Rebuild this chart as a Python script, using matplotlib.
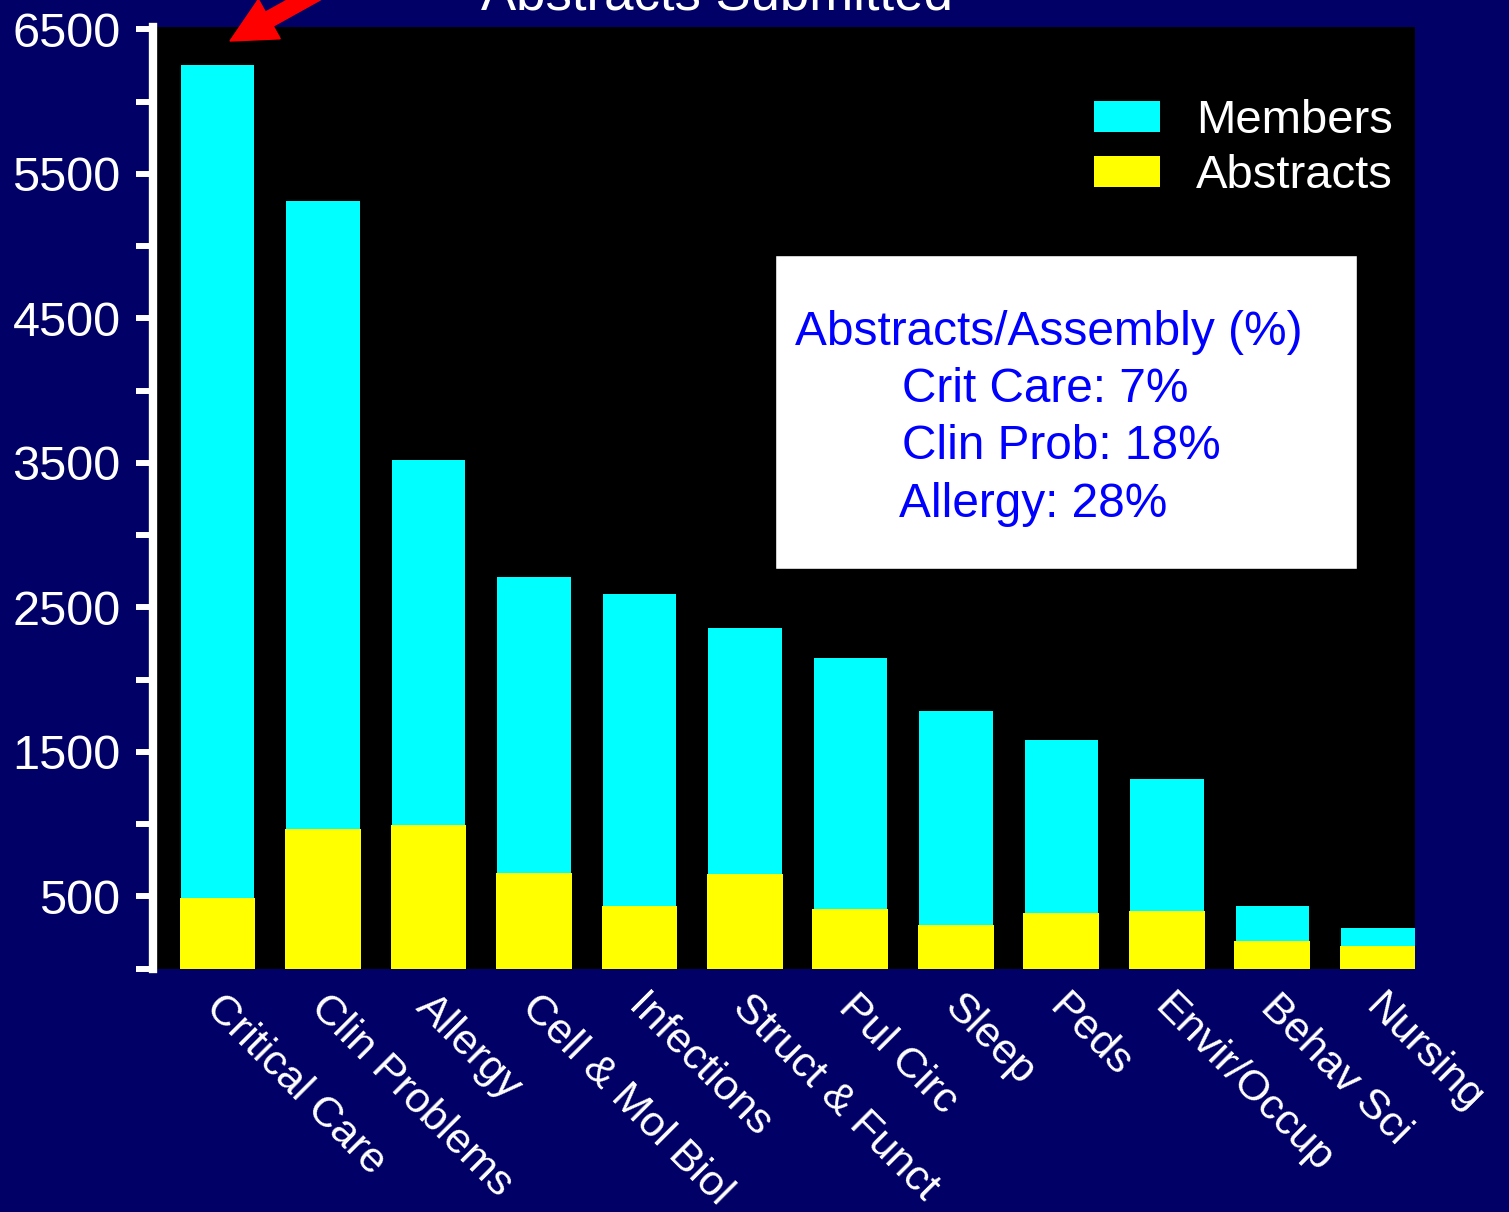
import matplotlib
matplotlib.use("Agg")
import matplotlib.pyplot as plt
from matplotlib.patches import Rectangle, FancyArrow
from matplotlib.transforms import IdentityTransform, ScaledTranslation

# Section sizes: members vs. abstracts submitted
sections = ["Critical Care", "Clin Problems", "Allergy", "Cell & Mol Biol",
            "Infections", "Struct & Funct", "Pul Circ", "Sleep", "Peds",
            "Envir/Occup", "Behav Sci", "Nursing"]
members = [6250, 5310, 3520, 2710, 2590, 2360, 2150, 1780, 1580, 1310, 435, 280]
abstracts = [490, 970, 995, 665, 435, 655, 415, 305, 385, 400, 190, 155]

yticks = list(range(0, 6501, 500))
ytick_labels = [str(v) if v % 1000 == 500 else "" for v in yticks]

box_lines = ["Abstracts/Assembly (%)", "Crit Care: 7%", "Clin Prob: 18%", "Allergy: 28%"]

NAVY = "#000066"
CYAN = "#00FFFF"
YELLOW = "#FFFF00"
W, H = 1509, 1212

plt.rcParams["font.family"] = ["Liberation Sans", "DejaVu Sans"]

fig = plt.figure(figsize=(W / 100, H / 100), dpi=100, facecolor=NAVY)
ax = fig.add_axes([152.5 / W, 1 - 968.7 / H, (1415 - 152.5) / W, (968.7 - 26.7) / H])
ax.set_facecolor("black")

x = list(range(len(sections)))
ax.bar(x, members, width=0.70, color=CYAN, label="Members", zorder=2)
ax.bar(x, abstracts, width=0.72, color=YELLOW, label="Abstracts", zorder=3)

ax.set_xlim(-0.616, 11.351)
ax.set_ylim(0, 6518)

for side in ("top", "right", "bottom"):
    ax.spines[side].set_visible(False)
ax.spines["left"].set_color("white")
ax.spines["left"].set_linewidth(6)

ax.set_yticks(yticks, ytick_labels)
ax.tick_params(axis="y", colors="white", length=12, width=4.3, pad=11, labelsize=35)

ax.set_xticks(x, sections, rotation=-45, ha="left", va="top",
              rotation_mode="anchor", fontsize=31, color="white")
ax.tick_params(axis="x", length=0, pad=13)
shift = ScaledTranslation(8 / 100, 0, fig.dpi_scale_trans)
for lbl in ax.get_xticklabels():
    lbl.set_transform(lbl.get_transform() + shift)

leg = ax.legend(loc="upper right", bbox_to_anchor=(1393 / W, 1 - 99 / H),
                bbox_transform=fig.transFigure, frameon=False, fontsize=34,
                labelcolor="white", handlelength=1.4, handleheight=0.63,
                handletextpad=0.76, labelspacing=0.24, borderpad=0,
                borderaxespad=0)

# Summary box
fig.add_artist(Rectangle((775 / W, 1 - 569 / H), (1357 - 775) / W, (569 - 255) / H,
                         transform=fig.transFigure, facecolor="white",
                         edgecolor="black", linewidth=1, zorder=5))
box_x = [795, 902, 902, 899]
box_base = [345, 401.7, 459, 516.7]
for txt, bx, by in zip(box_lines, box_x, box_base):
    fig.text(bx / W, 1 - by / H, txt, ha="left", va="baseline", fontsize=34.4,
             color="#0000FF", zorder=6)

# Title, partly above the top edge
fig.text(717 / W, 1 - 10 / H, "Abstracts Submitted", ha="center", va="baseline",
         fontsize=38, color="white")

# Red pointer toward the largest section
tip_x, tip_y = 230, H - 41
ux, uy = 0.874, 0.486
length = 170
arrow = FancyArrow(tip_x + ux * length, tip_y + uy * length, -ux * length, -uy * length,
                   width=16, head_width=45, head_length=45,
                   length_includes_head=True, color="#FF0000",
                   transform=IdentityTransform(), zorder=10)
fig.add_artist(arrow)

fig.savefig("out.png", dpi=100, facecolor=NAVY)
